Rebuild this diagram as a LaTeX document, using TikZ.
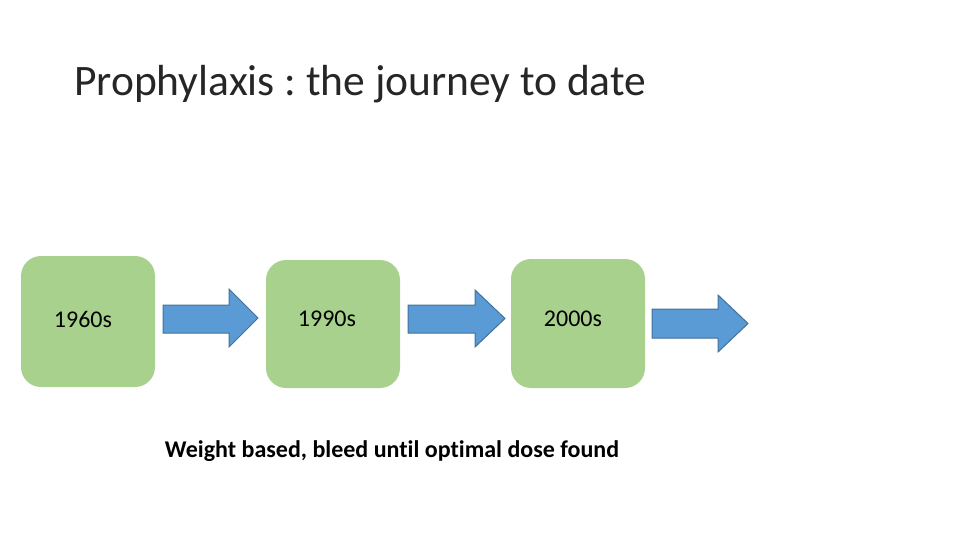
\documentclass[tikz,border=0pt]{standalone}
\usepackage{fontspec}
\setmainfont[Ligatures=CommonOff]{Carlito}
\frenchspacing
\definecolor{boxgreen}{HTML}{A9D18E}
\definecolor{arrblue}{HTML}{5B9BD5}
\definecolor{arrline}{HTML}{41719C}
\begin{document}
\begin{tikzpicture}[x=1pt,y=-1pt,
  era/.style={fill=boxgreen, rounded corners=20pt},
  eralabel/.style={font=\fontsize{24}{28}\selectfont, inner sep=0pt},
  bigarrow/.style={fill=arrblue, draw=arrline, line width=1pt, line join=miter}]
\useasboundingbox (0,0) rectangle (960,540);
% title
\node[anchor=base west, inner sep=0pt, font=\fontsize{43.5}{48}\selectfont, text=black!85] (title) at (74,96) {Prophylaxis : the journey to date};
% boxes
\fill[era] (21,256) rectangle (155,387);
\fill[era] (266,260) rectangle (400,388);
\fill[era] (511,259) rectangle (645,388);
\node[eralabel] (b1) at (83,319) {1960s};
\node[eralabel] (b2) at (327,319) {1990s};
\node[eralabel] (b3) at (573,319) {2000s};
% arrows
\draw[bigarrow] (163,305) -- (229,305) -- (229,289) -- (258,318) -- (229,347) -- (229,333) -- (163,333) -- cycle;
\draw[bigarrow] (408,305) -- (475,305) -- (475,290) -- (505,318.5) -- (475,347) -- (475,333) -- (408,333) -- cycle;
\draw[bigarrow] (652,309) -- (718,309) -- (718,295) -- (748,323.5) -- (718,352) -- (718,338) -- (652,338) -- cycle;
% caption
\node[font=\bfseries\fontsize{24}{28}\selectfont, inner sep=0pt] (cap) at (392,451) {Weight based, bleed until optimal dose found};
\end{tikzpicture}
\end{document}
